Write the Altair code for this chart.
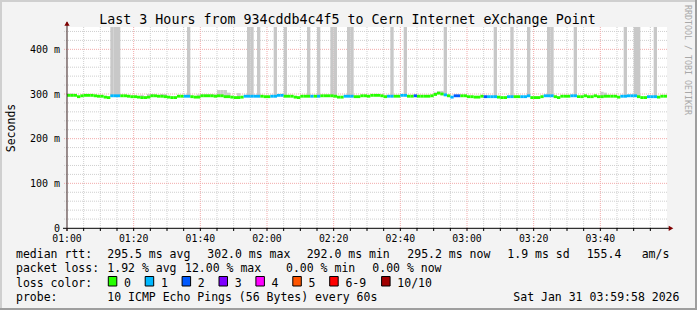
import altair as alt
import pandas as pd

# ---------------- data ----------------
median_ms = [297, 297, 297, 294, 296, 297, 297, 297, 296, 295,
             295, 293, 292, 296, 296, 296, 296, 296, 295, 294,
             294, 293, 292, 292, 293, 296, 296, 295, 295, 294,
             293, 292, 292, 295, 295, 295, 295, 294, 293, 293,
             296, 296, 296, 296, 295, 296, 296, 294, 294, 293,
             292, 292, 293, 295, 295, 295, 295, 295, 295, 294,
             294, 295, 295, 297, 297, 295, 295, 295, 293, 292,
             295, 295, 295, 295, 295, 295, 296, 296, 296, 296,
             295, 293, 293, 295, 295, 295, 294, 294, 296, 296,
             295, 297, 297, 297, 296, 294, 295, 295, 295, 295,
             297, 297, 295, 295, 296, 295, 295, 295, 295, 296,
             299, 302, 300, 298, 296, 293, 296, 296, 296, 296,
             294, 294, 293, 293, 295, 294, 294, 294, 294, 293,
             292, 292, 294, 294, 294, 294, 294, 294, 296, 292,
             292, 292, 294, 296, 296, 296, 294, 292, 295, 295,
             295, 296, 296, 294, 294, 296, 294, 294, 296, 294,
             294, 295, 295, 295, 295, 293, 295, 295, 296, 296,
             296, 294, 292, 292, 294, 294, 294, 293, 295, 295]

loss_count = [0, 0, 0, 0, 0, 0, 0, 0, 0, 0,
              0, 0, 0, 1, 1, 1, 0, 0, 0, 0,
              0, 0, 0, 0, 0, 0, 0, 0, 0, 0,
              0, 0, 0, 0, 0, 1, 1, 0, 0, 0,
              0, 0, 0, 0, 0, 0, 0, 0, 0, 0,
              0, 0, 0, 1, 1, 1, 1, 1, 0, 0,
              0, 1, 1, 1, 1, 0, 0, 0, 0, 0,
              0, 0, 0, 1, 0, 1, 0, 0, 0, 0,
              0, 0, 0, 1, 1, 1, 0, 0, 0, 0,
              0, 0, 0, 0, 0, 0, 1, 1, 0, 0,
              1, 1, 0, 0, 2, 0, 0, 0, 0, 0,
              0, 0, 0, 1, 0, 1, 2, 2, 0, 0,
              0, 0, 0, 0, 0, 2, 1, 1, 1, 0,
              0, 0, 1, 1, 0, 0, 1, 1, 1, 0,
              0, 0, 0, 1, 1, 1, 0, 0, 0, 0,
              0, 1, 1, 0, 0, 0, 0, 0, 0, 0,
              0, 0, 0, 0, 0, 0, 1, 1, 1, 1,
              1, 0, 0, 0, 1, 1, 1, 0, 0, 0]

# minutes whose smoke reaches beyond the top of the graph
tall_smoke_min = [13, 14, 15, 36, 54, 55, 57, 62, 65, 72, 75, 79, 80, 84, 85,
                  97, 101, 113, 128, 133, 138, 144, 145, 152, 167, 170, 171, 176]
# small smoke just above the median line
small_smoke_min = [0, 1, 22, 24, 25, 28, 29, 39, 40, 41, 42, 43, 44, 45, 46, 47,
                   48, 51, 110, 111, 112, 160, 161]
small_smoke_top = [301, 301, 298, 300, 300, 300, 300, 299, 299, 299, 299, 299, 299,
                   309, 309, 309, 303, 302, 304, 306, 307, 305, 303]

x_tick_min = [0, 20, 40, 60, 80, 100, 120, 140, 160]
x_tick_labels = ["01:00", "01:20", "01:40", "02:00", "02:20", "02:40", "03:00", "03:20", "03:40"]
y_tick_vals = [0, 100, 200, 300, 400]
y_tick_labels = ["0", "100 m", "200 m", "300 m", "400 m"]

loss_labels = ["0", "1", "2", "3", "4", "5", "6-9", "10/10"]
loss_colors = ["#26ff00", "#00b8ff", "#0059ff", "#7e00ff", "#ff00ff", "#ff5500", "#ff0000", "#a10000"]

title_text = "Last 3 Hours from 934cddb4c4f5 to Cern Internet eXchange Point"
rtt_items = ["median rtt:", "295.5 ms avg", "302.0 ms max", "292.0 ms min",
             "295.2 ms now", "1.9 ms sd", "155.4", "am/s"]
loss_items = ["packet loss:", "1.92 % avg", "12.00 % max", "0.00 % min", "0.00 % now"]
probe_items = ["probe:", "10 ICMP Echo Pings (56 Bytes) every 60s", "Sat Jan 31 03:59:58 2026"]

# ---------------- layout ----------------
OX, OY = 67, 27          # plot origin in the page
W, H = 600, 201
MONO = "DejaVu Sans Mono"

xs = alt.Scale(domain=[0, 180], nice=False, zero=False)
ys = alt.Scale(domain=[0, 450], nice=False, zero=False)
one = pd.DataFrame({"k": [0]})


def bucket(n):
    if n <= 5:
        return n
    if n < 10:
        return 6
    return 7


def txt(s, ax, ay, size=11.5, align="left", angle=0, color="#000000"):
    return alt.Chart(one).mark_text(
        text=s, font=MONO, fontSize=size, align=align, baseline="alphabetic",
        angle=angle, color=color
    ).encode(x=alt.value(ax - OX), y=alt.value(ay - OY))


def prect(x1, x2, y1, y2, color, stroke=None):
    kw = dict(color=color)
    if stroke:
        kw = dict(fill=color, stroke=stroke, strokeWidth=1)
    return alt.Chart(one).mark_rect(**kw).encode(
        x=alt.value(x1 - OX), x2=alt.value(x2 - OX),
        y=alt.value(y1 - OY), y2=alt.value(y2 - OY))


def prule(x1, x2, y1, y2, color, width=1):
    return alt.Chart(one).mark_rule(color=color, strokeWidth=width).encode(
        x=alt.value(x1 - OX), x2=alt.value(x2 - OX),
        y=alt.value(y1 - OY), y2=alt.value(y2 - OY))


# grid
gx_minor = pd.DataFrame({"m": [m for m in range(5, 180, 5) if m % 20]})
gx_major = pd.DataFrame({"m": x_tick_min[1:]})
gy_minor = pd.DataFrame({"v": [v for v in range(20, 451, 20) if v % 100]})
gy_major = pd.DataFrame({"v": y_tick_vals[1:]})


def vgrid(df, color):
    return alt.Chart(df).mark_rule(color=color, strokeDash=[1, 1], strokeWidth=1).encode(
        x=alt.X("m:Q", scale=xs, axis=None), y=alt.value(0), y2=alt.value(H + 2))


def hgrid(df, color):
    return alt.Chart(df).mark_rule(color=color, strokeDash=[1, 1], strokeWidth=1).encode(
        y=alt.Y("v:Q", scale=ys, axis=None), x=alt.value(-3), x2=alt.value(W + 1))


GRID = "#cfcfcf"
MGRID = "#f2aaaa"

# smoke
tall_df = pd.DataFrame({"m": tall_smoke_min,
                        "ms": [median_ms[m] for m in tall_smoke_min]})
tall = alt.Chart(tall_df).transform_calculate(
    m2="datum.m + 1", lo="datum.ms - 2", hi="460"
).mark_rect(color="#c8c8c8", clip=True).encode(
    x=alt.X("m:Q", scale=xs, axis=None), x2="m2:Q",
    y=alt.Y("lo:Q", scale=ys, axis=None), y2="hi:Q")

small_df = pd.DataFrame({"m": small_smoke_min, "top": small_smoke_top,
                         "ms": [median_ms[m] for m in small_smoke_min]})
small = alt.Chart(small_df).transform_calculate(
    m2="datum.m + 1", lo="datum.ms - 2"
).mark_rect(color="#cccccc").encode(
    x=alt.X("m:Q", scale=xs, axis=None), x2="m2:Q",
    y=alt.Y("lo:Q", scale=ys, axis=None), y2="top:Q")

# median line coloured by loss
med_df = pd.DataFrame({"m": list(range(len(median_ms))), "ms": median_ms, "loss": loss_count})
med_df["col"] = [loss_colors[bucket(n)] for n in loss_count]
median = alt.Chart(med_df).transform_calculate(
    m2="datum.m + 1", lo="datum.ms - 3.2", hi="datum.ms + 3.2"
).mark_rect().encode(
    x=alt.X("m:Q", scale=xs, axis=None), x2="m2:Q",
    y=alt.Y("lo:Q", scale=ys, axis=None), y2="hi:Q",
    color=alt.Color("col:N", scale=None))

# tick labels
xlab = alt.Chart(pd.DataFrame({"m": x_tick_min, "t": x_tick_labels})).mark_text(
    font=MONO, fontSize=9.8, align="center", baseline="alphabetic"
).encode(x=alt.X("m:Q", scale=xs, axis=None), y=alt.value(241.7 - OY), text="t:N")
ylab = alt.Chart(pd.DataFrame({"v": y_tick_vals, "t": y_tick_labels})).mark_text(
    font=MONO, fontSize=10, align="right", baseline="alphabetic", dy=3.6
).encode(y=alt.Y("v:Q", scale=ys, axis=None), x=alt.value(60 - OX), text="t:N")

# x axis small ticks
xticks = alt.Chart(pd.DataFrame({"m": list(range(0, 180, 5))})).mark_rule(
    color="#000000", strokeWidth=1).encode(
    x=alt.X("m:Q", scale=xs, axis=None), y=alt.value(H), y2=alt.value(H + 3))

# axes + arrows
ARROW = "#7f0000"
axes = [
    prule(63, 669, 228.3, 228.3, "#000000"),
    prule(67, 67, 22, 231, "#3a2020"),
    alt.Chart(one).mark_point(shape="triangle-up", filled=True, size=28, color=ARROW, opacity=1)
    .encode(x=alt.value(0), y=alt.value(23.5 - OY)),
    alt.Chart(one).mark_point(shape="triangle-right", filled=True, size=28, color=ARROW, opacity=1)
    .encode(x=alt.value(671 - OX), y=alt.value(228.3 - OY)),
]

# legend texts
rtt_x = [16, 107.3, 207.3, 306.7, 407.3, 507.3, 586.7, 641.7]
loss_x = [16, 107.3, 185, 286, 372.3]
probe_x = [16, 107.3, 513.3]
texts = [txt(title_text, 347.5, 24, size=13.3, align="center")]
texts += [txt(s, x, 258.3) for s, x in zip(rtt_items, rtt_x)]
texts += [txt(s, x, 272.4) for s, x in zip(loss_items, loss_x)]
texts += [txt("loss color:", 16, 286.5)]
texts += [txt(s, x, 300.6) for s, x in zip(probe_items, probe_x)]
texts += [txt("Seconds", 14.5, 128, size=11.5, align="center", angle=270)]
texts += [txt("RRDTOOL / TOBI OETIKER", 685, 60, size=8.3, align="center", angle=90, color="#a8a8a8")]

sq_x = [108.3, 145.2, 182.1, 219, 255.9, 292.8, 329.7, 381.6]
legend = []
for lab, col, x in zip(loss_labels, loss_colors, sq_x):
    legend.append(prect(x, x + 8.5, 276.5, 286, col, stroke="#000000"))
    legend.append(txt(lab, x + 15.7, 286.5))

# frame shading
frame = [
    prect(0, 697, 0, 2, "#cfcfcf"),
    prect(0, 2, 0, 310, "#cfcfcf"),
    prect(695, 697, 0, 310, "#9e9e9e"),
    prect(0, 697, 308, 310, "#9e9e9e"),
]

chart = alt.layer(
    vgrid(gx_minor, GRID), hgrid(gy_minor, GRID),
    vgrid(gx_major, MGRID), hgrid(gy_major, MGRID),
    small, tall, median, xticks, *axes, xlab, ylab, *texts, *legend, *frame
).properties(
    width=W, height=H,
    padding={"left": OX, "top": OY, "right": 697 - OX - W, "bottom": 310 - OY - H},
    autosize=alt.AutoSizeParams(type="none"),
    background="#f3f3f3",
).configure_view(stroke=None, fill="#ffffff")

chart.save("out.html", embed_options={"renderer": "svg", "actions": False})
